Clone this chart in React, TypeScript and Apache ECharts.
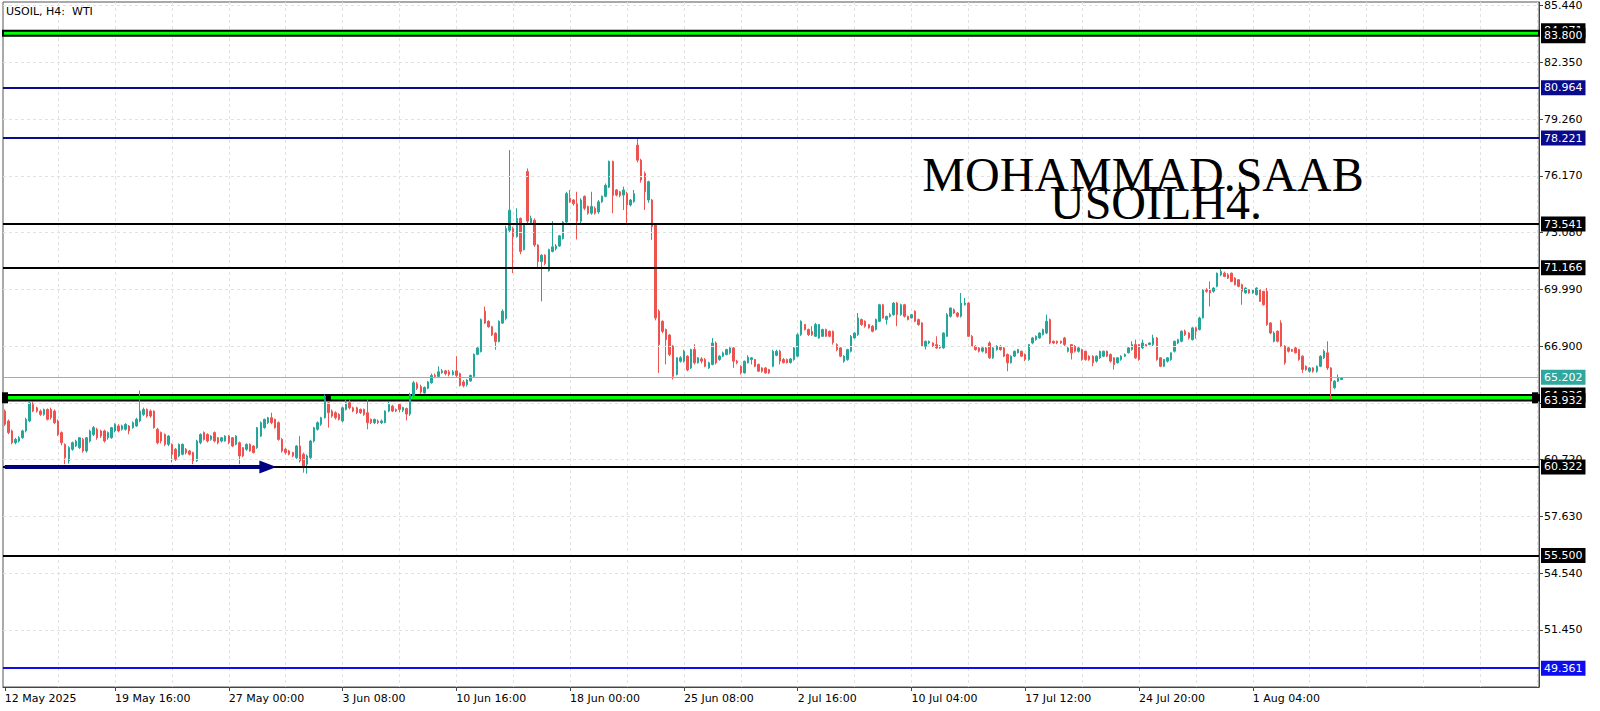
import React, { useEffect, useRef } from "react";
import * as echarts from "echarts";

// ---------- texts ----------
const symbolTitle = "USOIL, H4:  WTI";
const watermarkTop = "MOHAMMAD.SAAB";
const watermarkBottom = "USOILH4.";

// ---------- time axis ----------
const timeTickLabels = [
  "12 May 2025", "19 May 16:00", "27 May 00:00", "3 Jun 08:00", "10 Jun 16:00", "18 Jun 00:00",
  "25 Jun 08:00", "2 Jul 16:00", "10 Jul 04:00", "17 Jul 12:00", "24 Jul 20:00", "1 Aug 04:00",
];
const firstTickIndex = 31; // bar index of "19 May 16:00"
const tickEvery = 32; // bars between time labels
const gridEvery = 16; // bars between vertical grid lines
const slotCount = 432; // bar slots visible (incl. empty future space)

// ---------- price axis ----------
const priceTicks = [85.44, 82.35, 79.26, 76.17, 73.08, 69.99, 66.9, 63.81, 60.72, 57.63, 54.54, 51.45];
const yMin = 48.34;
const yMax = 85.63;

// ---------- levels ----------
const bandZones: [number, number][] = [[83.8, 84.071], [63.932, 64.236]];
const navyLevels = [80.964, 78.221];
const blackLevels = [73.541, 71.166, 60.322, 55.5];
const blueLevels = [49.361];
const bidPrice = 65.202;
const arrowLevel = 60.322;
const arrowEndBar = 74;

// ---------- candles [open, close, low, high] ----------
const mayCandles = [
  [63.36, 62.64, 62.55, 63.45], [62.82, 62.19, 62.1, 62.9], [62.28, 61.64, 61.55, 62.35], [61.64, 61.82, 61.55, 61.9],
  [61.73, 61.91, 61.65, 62.0], [61.91, 62.28, 61.85, 62.35], [62.28, 62.91, 62.2, 63.0], [62.82, 63.81, 62.75, 63.9],
  [63.72, 63.36, 63.3, 63.85], [63.54, 63.36, 63.28, 63.6], [63.36, 63.18, 63.1, 63.45], [63.18, 63.45, 63.1, 63.5],
  [63.45, 62.91, 62.85, 63.5], [63.45, 63.0, 62.9, 63.55], [63.36, 62.73, 62.65, 63.45], [62.82, 62.09, 62.0, 62.9],
  [62.19, 61.64, 61.5, 62.25], [61.55, 60.83, 60.47, 61.6], [60.65, 61.37, 60.5, 61.45], [61.28, 61.64, 61.2, 61.7],
  [61.46, 61.73, 61.4, 61.8], [61.37, 61.91, 61.3, 61.95], [61.82, 61.19, 61.1, 61.9], [61.19, 61.91, 61.1, 61.95],
  [61.73, 62.28, 61.65, 62.35], [62.09, 62.46, 62.0, 62.55], [62.37, 61.91, 61.8, 62.45], [62.28, 62.0, 61.9, 62.35],
  [62.28, 61.73, 61.65, 62.35], [61.91, 62.19, 61.8, 62.25], [61.91, 62.46, 61.85, 62.5], [62.28, 62.64, 62.2, 62.7],
  [62.55, 62.28, 62.2, 62.65], [62.37, 62.55, 62.3, 62.62], [62.37, 62.64, 62.3, 62.7], [62.55, 62.28, 62.1, 62.6],
  [62.46, 62.73, 62.4, 62.8], [62.55, 62.91, 62.5, 63.0], [62.82, 63.36, 62.75, 64.48], [63.18, 63.45, 63.1, 63.55],
  [63.45, 63.09, 63.0, 63.5], [63.36, 63.09, 63.0, 63.45], [63.36, 62.46, 62.4, 63.4], [62.37, 61.64, 61.55, 62.45],
  [62.19, 61.73, 61.6, 62.25], [62.09, 61.55, 61.45, 62.15], [61.55, 62.0, 61.45, 62.05], [61.55, 61.01, 60.56, 61.6],
  [61.28, 60.74, 60.65, 61.35], [60.92, 61.55, 60.85, 61.6], [61.01, 61.55, 60.95, 61.6], [61.28, 61.1, 61.0, 61.35],
  [61.19, 61.01, 60.95, 61.25], [61.1, 60.65, 60.47, 61.15], [60.65, 61.73, 60.6, 61.8], [61.64, 62.09, 61.55, 62.15],
  [62.19, 61.82, 61.75, 62.25], [62.09, 61.73, 61.65, 62.15], [61.82, 62.0, 61.75, 62.05], [62.19, 61.73, 61.65, 62.25],
  [61.91, 61.64, 61.55, 61.95], [61.73, 61.91, 61.65, 61.95], [61.73, 62.0, 61.7, 62.05], [62.0, 61.64, 61.55, 62.05],
  [61.91, 61.46, 61.4, 61.95], [61.55, 62.0, 61.5, 62.05], [61.64, 60.92, 60.47, 61.7], [61.37, 60.92, 60.85, 61.4],
  [61.28, 61.55, 61.2, 61.6], [61.55, 61.19, 61.15, 61.6], [61.46, 61.1, 61.05, 61.5], [61.37, 62.46, 61.3, 62.5],
  [62.0, 62.73, 61.95, 62.8], [62.46, 62.91, 62.4, 62.95], [62.73, 63.0, 62.65, 63.05], [63.0, 62.73, 62.65, 63.27],
  [62.91, 62.46, 62.4, 62.95], [62.73, 61.82, 61.75, 62.8], [61.82, 61.19, 61.1, 61.9], [61.28, 61.1, 61.0, 61.35],
  [61.19, 61.01, 60.95, 61.25], [61.1, 60.92, 60.85, 61.15], [60.83, 61.46, 60.75, 61.5], [61.46, 60.65, 60.56, 62.0],
  [61.01, 60.28, 60.01, 61.1], [60.47, 60.92, 59.95, 61.0], [60.83, 61.73, 60.75, 61.8], [61.73, 62.46, 61.65, 62.5],
  [62.37, 62.73, 62.3, 62.8], [62.64, 63.0, 62.55, 63.05], [63.0, 64.09, 62.95, 64.27], [63.81, 63.27, 62.46, 63.9],
  [63.36, 63.09, 63.0, 63.45], [63.27, 63.0, 62.9, 63.35], [63.18, 62.91, 62.85, 63.25], [62.82, 63.54, 62.75, 63.6],
  [63.45, 63.81, 63.4, 64.0], [63.81, 63.54, 63.45, 63.99], [63.54, 63.36, 63.3, 63.6], [63.54, 63.27, 63.2, 63.6],
  [63.45, 63.27, 63.2, 63.5], [63.45, 63.18, 63.1, 63.5], [63.27, 62.73, 62.37, 63.99], [62.91, 62.73, 62.65, 62.95],
  [62.73, 62.91, 62.65, 62.95], [62.82, 62.73, 62.65, 62.9], [62.73, 62.82, 62.65, 62.9], [62.73, 63.36, 62.7, 63.4],
  [63.36, 63.72, 63.3, 63.9], [63.63, 63.36, 63.3, 63.7], [63.45, 63.36, 63.3, 63.5],
];

const juneCandles = [
  [63.72, 63.45, 63.3, 63.8], [63.4, 63.55, 63.3, 63.6], [63.5, 63.2, 62.85, 63.55], [63.2, 64.27, 63.1, 64.35],
  [64.2, 64.9, 64.1, 65.0], [64.85, 64.6, 64.5, 64.95], [64.7, 64.4, 64.3, 64.8], [64.35, 64.65, 64.3, 64.7],
  [64.6, 64.95, 64.55, 65.0], [64.9, 65.3, 64.85, 65.4], [65.3, 65.25, 65.15, 65.4], [65.25, 65.5, 65.2, 65.8],
  [65.45, 65.55, 65.4, 65.65], [65.55, 65.4, 65.3, 65.6], [65.5, 65.35, 65.25, 65.6], [65.35, 65.5, 65.3, 65.6],
  [65.55, 65.3, 65.2, 66.35], [65.4, 64.75, 64.7, 65.45], [64.95, 64.75, 64.65, 65.05], [64.8, 65.05, 64.7, 65.1],
  [65.0, 65.3, 64.95, 65.35], [65.25, 66.45, 65.2, 66.5], [66.45, 66.8, 66.4, 66.9], [66.6, 68.35, 66.55, 68.4],
  [68.8, 68.15, 68.1, 69.05], [68.25, 67.95, 67.9, 68.3], [67.95, 67.5, 67.45, 68.0], [67.6, 67.15, 66.7, 67.65],
  [67.15, 68.25, 67.1, 68.3], [68.15, 68.8, 68.1, 68.9], [68.4, 73.3, 68.3, 73.45], [73.2, 74.3, 73.1, 77.57],
  [73.3, 72.85, 70.87, 73.4], [72.86, 73.85, 72.8, 74.4], [73.85, 72.05, 71.9, 73.9], [72.15, 73.5, 72.1, 73.6],
  [76.4, 73.7, 73.5, 76.57], [73.6, 73.85, 73.5, 74.0], [73.75, 72.4, 72.3, 73.85], [72.4, 71.5, 71.2, 72.45],
  [71.5, 71.85, 69.33, 71.9], [71.85, 71.4, 71.3, 71.9], [71.0, 72.15, 70.95, 72.2], [72.05, 72.3, 72.0, 73.7],
  [72.2, 72.35, 72.1, 72.45], [72.35, 72.9, 72.3, 72.95], [72.75, 73.65, 72.7, 73.7], [73.65, 75.2, 73.6, 75.3],
  [74.95, 74.75, 74.7, 75.4], [74.85, 74.65, 74.55, 74.9], [74.65, 73.7, 72.7, 75.3], [73.7, 74.85, 73.6, 74.95],
  [75.05, 74.4, 74.3, 75.1], [74.5, 74.13, 74.05, 74.55], [74.13, 74.5, 74.05, 75.3], [74.4, 74.13, 74.05, 74.5],
  [74.2, 74.75, 74.1, 74.85], [74.75, 75.05, 74.7, 75.1], [75.05, 75.65, 75.0, 75.75], [75.55, 76.95, 75.5, 77.0],
  [76.95, 75.1, 74.13, 77.0], [75.4, 75.12, 75.05, 75.45], [75.3, 75.1, 75.0, 75.35], [75.12, 75.4, 74.31, 75.58],
  [75.2, 74.58, 73.59, 75.3], [74.58, 74.85, 74.5, 74.9], [74.76, 75.2, 74.7, 75.4], [77.84, 77.02, 76.9, 78.2],
  [77.02, 75.94, 75.8, 77.1], [76.3, 75.3, 74.31, 76.4], [74.85, 75.85, 74.7, 75.9], [74.85, 73.4, 72.68, 74.9],
  [73.5, 68.43, 68.3, 73.55], [68.8, 66.98, 65.44, 68.9], [68.25, 67.7, 67.6, 68.3], [67.8, 67.25, 65.9, 67.85],
  [67.5, 66.44, 66.35, 67.55], [66.9, 65.26, 65.08, 66.95], [65.35, 66.26, 65.3, 66.3], [66.08, 66.26, 66.0, 66.35],
  [66.08, 66.62, 66.0, 66.7], [66.35, 65.6, 65.53, 66.4], [65.71, 66.71, 65.65, 66.75], [66.71, 65.99, 65.9, 67.0],
  [65.99, 66.26, 65.95, 66.3], [66.2, 66.08, 65.95, 66.3],
];

const julyCandles = [
  [66.17, 65.8, 65.75, 66.25], [65.71, 65.99, 65.65, 66.05], [65.9, 67.07, 65.85, 67.34], [67.07, 65.99, 65.9, 67.15],
  [66.17, 66.35, 66.1, 66.4], [66.35, 66.53, 66.3, 66.6], [66.44, 66.71, 66.4, 66.75], [66.53, 66.8, 66.45, 66.85],
  [66.8, 66.08, 65.71, 66.85], [66.08, 65.99, 65.9, 66.15], [65.8, 65.44, 65.35, 65.85], [65.44, 66.08, 65.4, 66.1],
  [65.99, 66.3, 65.95, 66.4], [66.17, 66.26, 65.9, 66.3], [66.17, 65.8, 65.75, 66.2], [65.9, 65.53, 65.5, 65.95],
  [65.71, 65.53, 65.45, 65.75], [65.71, 65.44, 65.4, 65.75], [65.62, 65.44, 65.38, 65.66], [65.8, 66.62, 65.75, 66.7],
  [66.4, 66.62, 66.35, 66.7], [66.62, 66.08, 65.9, 66.7], [66.17, 66.0, 65.95, 66.25], [66.17, 65.99, 65.95, 66.22],
  [66.0, 66.2, 65.95, 66.25], [66.17, 66.8, 66.1, 66.85], [66.35, 67.52, 66.3, 67.6], [67.52, 68.25, 67.45, 68.3],
  [68.07, 67.8, 67.75, 68.1], [67.8, 67.52, 67.45, 67.85], [67.7, 67.52, 67.45, 67.98], [67.43, 68.07, 67.4, 68.16],
  [67.34, 68.07, 67.3, 68.1], [67.43, 67.8, 67.4, 67.85], [67.8, 67.43, 67.4, 67.85], [67.7, 67.43, 67.38, 67.75],
  [67.7, 67.1, 66.98, 67.75], [66.98, 66.71, 66.62, 67.05], [66.8, 66.35, 66.3, 66.85], [66.08, 66.35, 65.99, 66.4],
  [66.17, 66.71, 66.1, 66.75], [66.62, 67.43, 66.55, 67.5], [67.34, 67.61, 67.3, 67.65], [67.52, 68.43, 67.45, 68.7],
  [68.34, 68.07, 68.0, 68.4], [68.25, 67.98, 67.9, 68.3], [68.07, 67.89, 67.85, 68.1], [67.98, 67.7, 67.65, 68.05],
  [67.8, 68.34, 67.75, 68.4], [68.25, 69.15, 68.2, 69.2], [69.15, 68.43, 68.4, 69.2], [68.34, 68.52, 68.07, 68.55],
  [68.52, 68.61, 68.45, 68.7], [68.61, 69.24, 68.55, 69.3], [69.24, 68.61, 67.98, 69.3], [68.61, 69.15, 68.55, 69.2],
  [69.15, 68.52, 68.45, 69.2], [68.52, 68.34, 68.3, 68.55], [68.43, 68.61, 68.4, 68.65], [68.79, 68.25, 68.2, 68.85],
  [68.34, 68.07, 68.0, 68.4], [68.16, 66.89, 66.85, 68.2], [66.89, 67.16, 66.71, 67.2], [67.07, 67.16, 67.0, 67.2],
  [67.07, 66.89, 66.85, 67.1], [66.98, 66.8, 66.75, 67.43], [66.89, 66.8, 66.75, 66.95], [66.8, 67.61, 66.75, 67.65],
  [67.43, 68.61, 67.4, 68.7], [68.52, 68.97, 68.45, 69.0], [68.88, 68.7, 68.65, 68.95], [68.7, 68.52, 68.45, 68.75],
  [68.52, 69.24, 68.45, 69.79], [69.15, 69.24, 69.1, 69.52], [69.24, 67.43, 67.4, 69.3], [67.43, 66.89, 66.85, 67.5],
  [66.89, 66.71, 66.65, 66.95], [66.8, 66.62, 66.55, 66.85], [66.62, 66.8, 66.55, 66.85], [66.8, 66.53, 66.5, 66.85],
  [67.07, 66.26, 66.2, 67.16], [66.26, 66.8, 66.2, 66.85], [66.71, 66.89, 66.65, 66.95], [66.89, 66.71, 66.65, 66.95],
  [66.8, 66.35, 66.3, 66.85], [66.44, 65.99, 65.53, 66.5], [65.99, 66.35, 65.95, 66.4], [66.35, 66.62, 66.3, 66.65],
  [66.53, 66.71, 66.5, 66.75],
];

const augustCandles = [
  [66.62, 66.35, 66.3, 66.65], [66.44, 66.17, 66.08, 66.5], [66.17, 66.98, 66.1, 67.0], [67.07, 67.34, 67.0, 67.4],
  [67.25, 67.43, 67.2, 67.48], [67.34, 67.61, 67.3, 67.65], [67.52, 67.8, 67.48, 67.85], [67.61, 68.25, 67.55, 68.61],
  [68.34, 67.07, 67.0, 68.4], [67.16, 67.07, 67.0, 67.2], [67.16, 67.07, 67.0, 67.2], [67.16, 67.07, 67.02, 67.2],
  [67.34, 66.98, 66.9, 67.4], [66.62, 66.8, 66.55, 66.85], [66.98, 66.53, 66.17, 67.0], [66.89, 66.62, 66.55, 66.95],
  [66.62, 66.8, 66.55, 66.85], [66.71, 66.17, 66.1, 66.75], [66.62, 66.17, 66.1, 66.65], [66.35, 66.17, 66.1, 66.4],
  [66.35, 65.99, 65.8, 66.4], [66.08, 66.35, 66.0, 66.4], [66.26, 66.62, 66.2, 66.65], [66.35, 66.62, 66.3, 66.65],
  [66.62, 66.35, 66.3, 66.65], [66.44, 66.08, 66.0, 66.5], [66.26, 65.89, 65.62, 66.3], [65.99, 66.26, 65.95, 66.3],
  [66.17, 66.35, 66.1, 66.4], [66.35, 66.44, 66.3, 66.5], [66.53, 66.8, 66.5, 66.85], [66.71, 66.98, 66.65, 67.16],
  [66.98, 66.26, 66.2, 67.25], [66.98, 66.17, 66.1, 67.0], [66.8, 67.07, 66.75, 67.25], [66.98, 66.89, 66.85, 67.0],
  [66.98, 67.07, 66.95, 67.1], [66.98, 67.34, 66.9, 67.52], [67.34, 66.17, 66.1, 67.4], [66.26, 65.8, 65.75, 66.3],
  [65.8, 66.17, 65.75, 66.2], [66.08, 66.26, 66.0, 66.3], [66.17, 66.53, 66.1, 66.55], [66.62, 67.16, 66.55, 67.2],
  [67.07, 67.25, 67.0, 67.3], [67.16, 67.71, 67.1, 67.75], [67.71, 67.52, 67.45, 67.8], [67.61, 67.34, 67.25, 67.65],
  [67.25, 67.89, 67.2, 67.95], [67.89, 67.71, 67.3, 67.95], [67.8, 68.43, 67.75, 68.5], [68.43, 69.97, 68.4, 70.0],
  [69.97, 69.88, 69.8, 70.05], [69.97, 69.79, 69.06, 70.42], [69.88, 70.06, 69.8, 70.1], [70.15, 70.87, 70.1, 70.9],
  [70.78, 70.96, 70.7, 71.14], [70.87, 70.69, 70.65, 70.95], [70.78, 70.6, 70.55, 70.87], [70.87, 70.42, 70.38, 70.9],
  [70.6, 70.24, 70.2, 70.65], [70.51, 70.15, 70.1, 70.55], [70.24, 69.88, 69.15, 70.3], [69.79, 70.06, 69.75, 70.1],
  [69.97, 69.79, 69.75, 70.0], [69.79, 69.97, 69.75, 70.0], [69.7, 70.06, 69.65, 70.1], [69.97, 69.33, 69.3, 70.0],
  [69.88, 69.15, 69.1, 69.9], [69.88, 68.07, 68.0, 70.06], [68.16, 67.61, 67.55, 68.2], [67.16, 67.61, 67.1, 67.7],
  [67.71, 67.16, 67.1, 67.75], [68.16, 66.89, 66.85, 68.3], [66.89, 65.99, 65.89, 66.95], [66.8, 66.62, 66.55, 66.85],
  [66.71, 66.62, 66.58, 66.75], [66.8, 66.53, 66.5, 66.85], [66.71, 66.17, 66.1, 66.75], [66.35, 65.62, 65.44, 66.4],
  [65.8, 65.62, 65.55, 65.85], [65.53, 65.71, 65.45, 65.75], [65.71, 65.53, 65.45, 65.75], [65.53, 65.8, 65.45, 65.85],
  [65.8, 66.35, 65.75, 66.4], [66.26, 66.62, 66.2, 66.71], [66.53, 65.71, 65.6, 67.16], [65.71, 64.99, 64.0, 65.75],
  [64.63, 64.99, 64.55, 65.05], [64.99, 65.17, 64.95, 65.35], [65.08, 65.17, 65.05, 65.2],
];

const candles = [...mayCandles, ...juneCandles, ...julyCandles, ...augustCandles];
const slots = Array.from({ length: slotCount }, (_, i) => String(i));

const isTimeTick = (i: number) =>
  i === 0 || (i >= firstTickIndex && (i - firstTickIndex) % tickEvery === 0 && (i - firstTickIndex) / tickEvery + 1 < timeTickLabels.length);
const timeLabel = (i: number) => (i === 0 ? timeTickLabels[0] : timeTickLabels[(i - firstTickIndex) / tickEvery + 1] ?? "");
const isGridCol = (i: number) => (i + 1) % gridEvery === 0;

const FONT = "DejaVu Sans";
const BULL = "#26a69a";
const BEAR = "#ef5350";

function priceLabel(bg: string, v: number) {
  return {
    show: true,
    position: "end" as const,
    distance: 2,
    color: "#ffffff",
    backgroundColor: bg,
    padding: [1, 3, 1, 3],
    fontSize: 11,
    lineHeight: 13,
    fontFamily: FONT,
    formatter: v.toFixed(3),
  };
}

function levelItem(v: number, color: string, width: number, labelBg: string, hiddenLine = false) {
  return {
    yAxis: v,
    lineStyle: hiddenLine
      ? { color: "rgba(0,0,0,0)", width: 0, type: "solid" as const }
      : { color, width, type: "solid" as const },
    label: priceLabel(labelBg, v),
  };
}

export default function App() {
  const ref = useRef<HTMLDivElement>(null);

  useEffect(() => {
    if (!ref.current) return;
    const chart = echarts.init(ref.current, null, { renderer: "svg" });

    const levelData: any[] = [
      ...navyLevels.map((v) => levelItem(v, "#0a0a8c", 2, "#0a0a8c")),
      ...blackLevels.map((v) => levelItem(v, "#000000", 2, "#000000")),
      ...blueLevels.map((v) => levelItem(v, "#0d0df0", 2, "#0d0df0")),
      levelItem(bidPrice, "#6cc3bd", 1, "#2fa79f"),
      ...bandZones.map(([, hi]) => levelItem(hi, "#000", 1, "#000", true)),
      ...bandZones.map(([lo]) => levelItem(lo, "#000", 1, "#000", true)),
      [
        {
          coord: ["0", arrowLevel],
          symbol: "none",
          lineStyle: { color: "#000080", width: 4, type: "solid" },
          label: { show: false },
        },
        { coord: [String(arrowEndBar), arrowLevel], symbol: "triangle", symbolSize: [13, 17] },
      ],
    ];

    const option: any = {
      animation: false,
      backgroundColor: "#ffffff",
      textStyle: { fontFamily: FONT },
      grid: { left: 3, right: 61, top: 0, bottom: 24, show: true, borderColor: "#555", borderWidth: 1 },
      xAxis: {
        type: "category",
        data: slots,
        boundaryGap: true,
        axisLine: { show: true, lineStyle: { color: "#444", width: 1 } },
        axisTick: { show: true, alignWithLabel: true, interval: (i: number) => isTimeTick(i), length: 4, lineStyle: { color: "#444" } },
        axisLabel: {
          show: true,
          interval: (i: number) => isTimeTick(i),
          formatter: (v: string) => timeLabel(Number(v)),
          align: "left",
          margin: 6,
          color: "#000",
          fontSize: 11,
          fontFamily: FONT,
        },
        splitLine: {
          show: true,
          alignWithLabel: true,
          interval: (i: number) => isGridCol(i),
          lineStyle: { color: "#e2e2e2", type: [3, 3], width: 1 },
        },
      },
      yAxis: {
        type: "value",
        position: "right",
        min: yMin,
        max: yMax,
        axisLine: { show: true, lineStyle: { color: "#444", width: 1 } },
        axisTick: { show: true, customValues: priceTicks, length: 4, lineStyle: { color: "#444" } },
        axisLabel: {
          show: true,
          customValues: priceTicks,
          formatter: (v: number) => v.toFixed(3),
          margin: 5,
          color: "#000",
          fontSize: 11,
          fontFamily: FONT,
        },
        splitLine: { show: false },
      },
      series: [
        {
          type: "line",
          data: [],
          z: 1,
          silent: true,
          markLine: {
            silent: true,
            symbol: ["none", "none"],
            label: { show: false },
            lineStyle: { color: "#e2e2e2", type: [3, 3], width: 1 },
            data: priceTicks.map((v) => ({ yAxis: v })),
          },
        },
        {
          type: "candlestick",
          data: candles,
          barWidth: 2,
          z: 3,
          itemStyle: { color: BULL, color0: BEAR, borderColor: BULL, borderColor0: BEAR, borderWidth: 1 },
        },
        {
          type: "line",
          data: [],
          z: 5,
          silent: true,
          markArea: {
            silent: true,
            itemStyle: { color: "#00ff00", borderColor: "#000", borderWidth: 2 },
            data: bandZones.map(([lo, hi]) => [{ yAxis: lo }, { yAxis: hi }]),
          },
          markLine: {
            silent: true,
            precision: 3,
            symbol: ["none", "none"],
            data: levelData,
          },
        },
      ],
    };
    chart.setOption(option);

    const bandY = chart.convertToPixel({ yAxisIndex: 0 }, (bandZones[1][0] + bandZones[1][1]) / 2) as number;
    const anchorX = chart.convertToPixel({ xAxisIndex: 0 }, "91") as number;
    chart.setOption({
      graphic: [
        { type: "text", left: 6, top: 6, z: 20, style: { text: symbolTitle, font: `11px '${FONT}'`, fill: "#000" } },
        { type: "rect", z: 20, shape: { x: 2, y: bandY - 5.5, width: 6, height: 11 }, style: { fill: "#000" } },
        { type: "rect", z: 20, shape: { x: 1532, y: bandY - 5.5, width: 6, height: 11 }, style: { fill: "#000" } },
        { type: "rect", z: 20, shape: { x: anchorX - 2.5, y: bandY - 2.5, width: 5, height: 5 }, style: { fill: "#000" } },
        {
          type: "text", z: 20, x: 1143, y: 174,
          style: { text: watermarkTop, font: "48px 'Liberation Serif'", fill: "#000", align: "center", verticalAlign: "middle" },
        },
        {
          type: "text", z: 21, x: 1156, y: 202,
          style: { text: watermarkBottom, font: "48px 'Liberation Serif'", fill: "#000", align: "center", verticalAlign: "middle" },
        },
      ],
    });

    return () => chart.dispose();
  }, []);

  return <div ref={ref} style={{ position: "absolute", left: 0, top: 0, width: 1600, height: 711 }} />;
}
